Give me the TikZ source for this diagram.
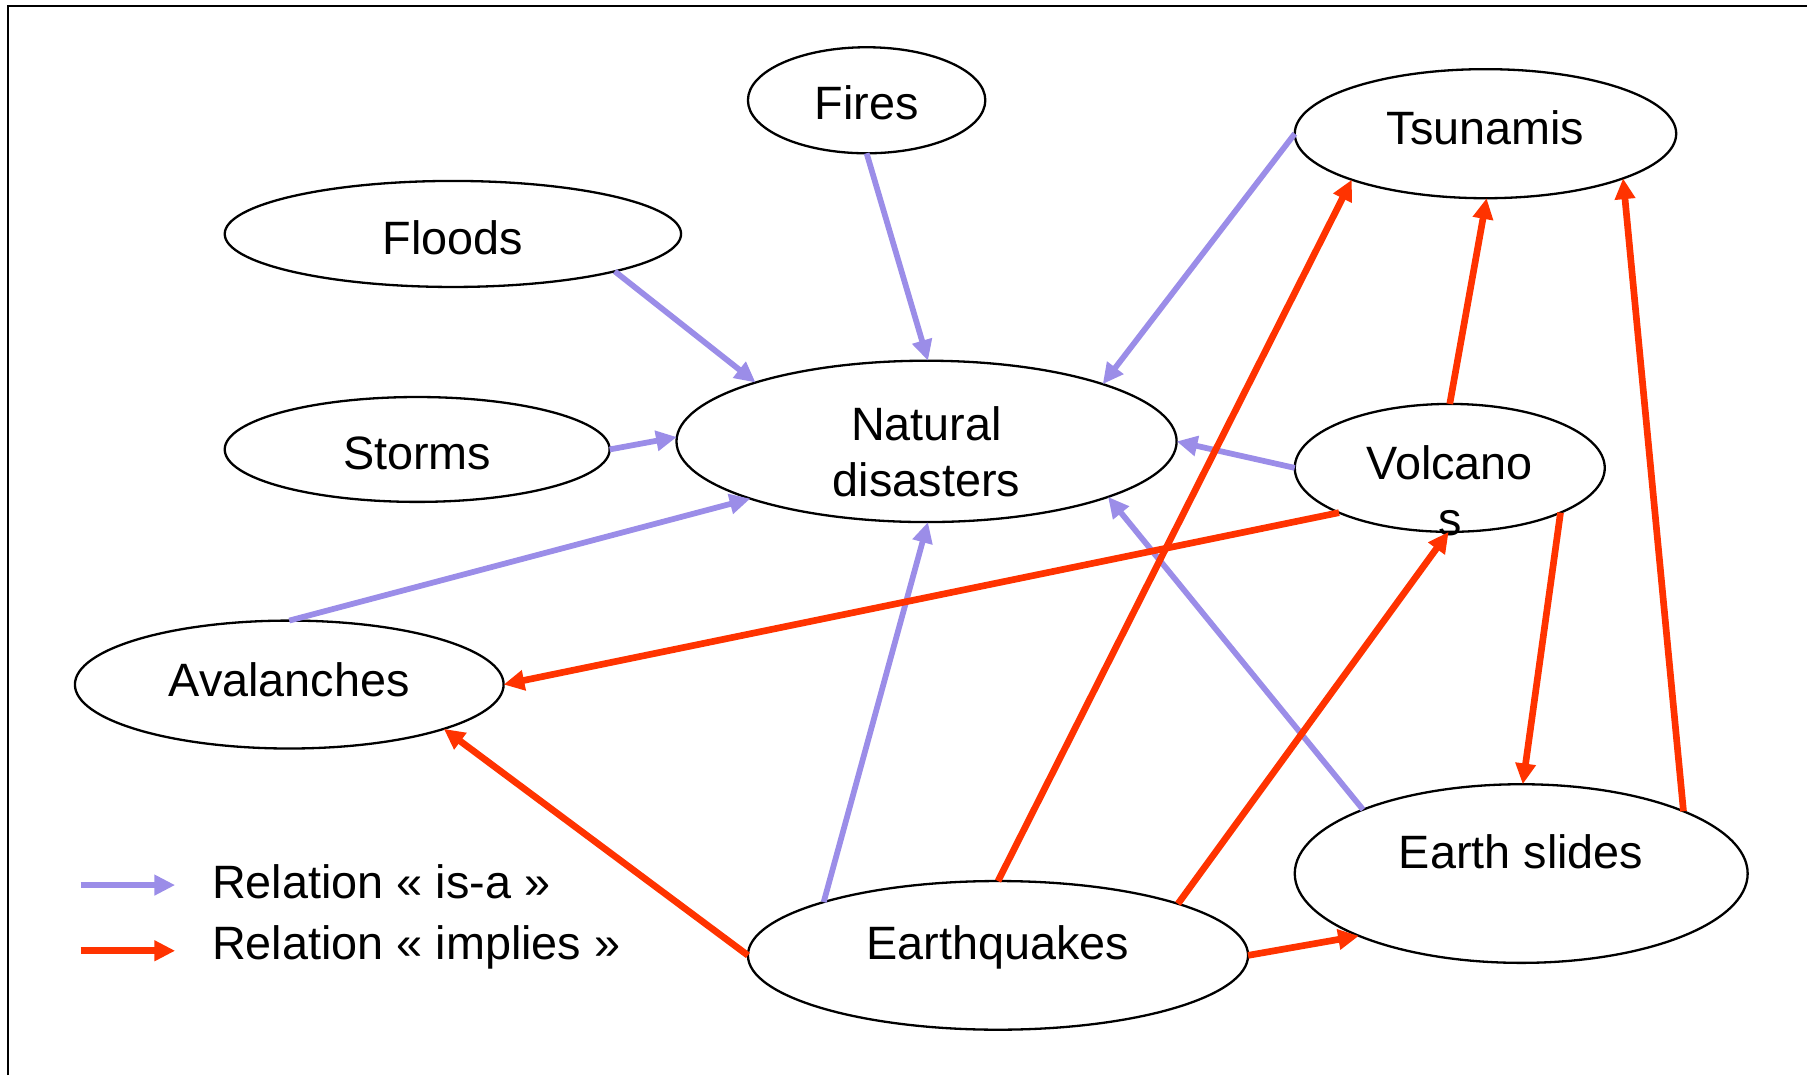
\documentclass[tikz,border=0pt]{standalone}
\usepackage{fontspec}
\setmainfont{Liberation Sans}
\usetikzlibrary{shapes.geometric,arrows.meta}
\definecolor{isacol}{RGB}{155,141,232}
\definecolor{impcol}{RGB}{255,51,0}
\begin{document}
\begin{tikzpicture}[x=0.5pt,y=-0.5pt,
  dis/.style={ellipse,draw=black,line width=1pt,inner sep=0pt,outer sep=0pt},
  lbl/.style={inner sep=0pt,outer sep=0pt,text height=14.5pt,text depth=0pt,font=\fontsize{20.3}{24}\selectfont},
  isa/.style={draw=isacol,line width=2.5pt,-{Triangle[length=9pt,width=8.5pt]}},
  imp/.style={draw=impcol,line width=2.9pt,-{Triangle[length=9pt,width=8.5pt]}}]
\useasboundingbox (0,0) rectangle (1568,933);
% frame
\coordinate (frTL) at (7,5);
\coordinate (frBL) at (7,933);
\coordinate (frTR) at (1568,5);
\draw[line width=1pt] (frBL) -- (frTL) -- (frTR);
% ellipses
\node[dis,minimum width=206pt/2,minimum height=92pt/2] (fires) at (752,87) {};
\node[dis,minimum width=331pt/2,minimum height=112pt/2] (tsunamis) at (1289,116) {};
\node[dis,minimum width=396pt/2,minimum height=92pt/2] (floods) at (393,203) {};
\node[dis,minimum width=334pt/2,minimum height=91pt/2] (storms) at (362,390) {};
\node[dis,minimum width=434pt/2,minimum height=140pt/2] (natural) at (804,383) {};
\node[dis,minimum width=269pt/2,minimum height=111pt/2] (volcanos) at (1258,406) {};
\node[dis,minimum width=372pt/2,minimum height=111pt/2] (avalanches) at (251,594) {};
\node[dis,minimum width=393pt/2,minimum height=155pt/2] (earthslides) at (1320,758) {};
\node[dis,minimum width=434pt/2,minimum height=129pt/2] (earthquakes) at (866,829) {};
% labels
\node[lbl] (tfires) at (752,89) {Fires};
\node[lbl] (ttsunamis) at (1289,111) {Tsunamis};
\node[lbl] (tfloods) at (393,206) {Floods};
\node[lbl] (tstorms) at (362,393) {Storms};
\node[lbl] (tnat1) at (804,368) {Natural};
\node[lbl] (tnat2) at (804,416) {disasters};
\node[lbl] (tvol1) at (1258,402) {Volcano};
\node[lbl] (tvol2) at (1258,450) {s};
\node[lbl] (taval) at (251,590) {Avalanches};
\node[lbl] (tslides) at (1320,739) {Earth slides};
\node[lbl] (tquakes) at (866,818) {Earthquakes};
% is-a arrows
\draw[isa] (fires.-90) -- (natural.89);
\draw[isa] (floods.-13.7) -- (natural.161.3);
\draw[isa] (storms.0.5) -- (natural.179);
\draw[isa] (avalanches.90) -- (natural.198);
\draw[isa] (tsunamis.180) -- (natural.18.8);
\draw[isa] (volcanos.180) -- (natural.0.5);
\draw[isa] (earthquakes.163.4) -- (natural.-89);
\draw[isa] (earthslides.158.1) -- (natural.-17.8);
% implies arrows
\draw[imp] (volcanos.202.8) -- (avalanches.0.3);
\draw[imp] (volcanos.90) -- (tsunamis.-89.5);
\draw[imp] (volcanos.-22.6) -- (earthslides.89);
\draw[imp] (earthquakes.180) -- (avalanches.-16.5);
\draw[imp] (earthquakes.90) -- (tsunamis.-161.6);
\draw[imp] (earthquakes.16.8) -- (volcanos.-91);
\draw[imp] (earthquakes.0) -- (earthslides.201.6);
\draw[imp] (earthslides.21.3) -- (tsunamis.-18.4);
% legend
\coordinate (lg1a) at (70,768);
\coordinate (lg1b) at (152,768);
\coordinate (lg2a) at (70,825);
\coordinate (lg2b) at (152,825);
\draw[isa] (lg1a) -- (lg1b);
\draw[imp] (lg2a) -- (lg2b);
\node[lbl,anchor=west] (tleg1) at (184,765) {Relation « is-a »};
\node[lbl,anchor=west] (tleg2) at (184,818) {Relation « implies »};
\end{tikzpicture}
\end{document}
